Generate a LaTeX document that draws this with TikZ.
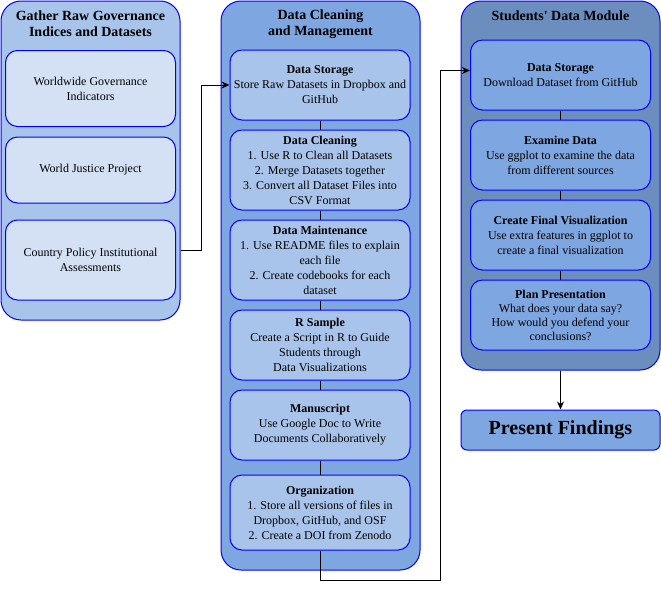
\documentclass[tikz,border=0pt]{standalone}
\usepackage{fontspec}
\setmainfont{Liberation Serif}
\usetikzlibrary{arrows.meta}

\definecolor{paleblue}{HTML}{D4E1F5}
\definecolor{lightblue}{HTML}{A9C4EB}
\definecolor{midblue}{HTML}{7EA6E0}
\definecolor{darkblue}{HTML}{6C8EBF}

\begin{document}
\begin{tikzpicture}[x=1pt, y=-1pt,
    panel/.style={draw=blue, line width=1pt, rounded corners=20pt, inner sep=0pt},
    stepbox/.style={draw=blue, line width=1pt, rounded corners=12pt, align=center,
                    inner sep=0pt, minimum width=180pt, font=\fontsize{12}{15}\selectfont},
    heading/.style={align=center, font=\fontsize{14}{16}\selectfont\bfseries},
    link/.style={line width=1pt},
    arrow/.style={link, -{Stealth[length=8pt,width=7pt]}}]
       \useasboundingbox (0,0) rectangle (661,589);
       % raw governance sources
       \node at (90.5,160.5) [panel, fill=lightblue, minimum width=179pt, minimum height=319pt] (gather) {};
       \node at (90.5,23.5) [heading] (gathertitle) {Gather Raw Governance\\Indices and Datasets};
       \node at (90.5,88.5) [stepbox, fill=paleblue, minimum width=170pt, minimum height=76pt] (wgi) {Worldwide Governance\\Indicators};
       \node at (90.5,170) [stepbox, fill=paleblue, minimum width=170pt, minimum height=66pt] (wjp) {World Justice Project};
       \node at (90.5,260) [stepbox, fill=paleblue, minimum width=170pt, minimum height=80pt] (cpia) {Country Policy Institutional\\Assessments};
       % cleaning and management
       \node at (320.5,285.5) [panel, fill=midblue, minimum width=199pt, minimum height=569pt] (manage) {};
       \node at (320.5,24) [heading] (managetitle) {Data Cleaning\\and Management};
       \node at (320,85) [stepbox, fill=lightblue, minimum height=70pt] (store) {\textbf{Data Storage}\\Store Raw Datasets in Dropbox and\\GitHub};
       \node at (320,170) [stepbox, fill=lightblue, minimum height=80pt] (clean) {\textbf{Data Cleaning}\\1. Use R to Clean all Datasets\\2. Merge Datasets together\\3. Convert all Dataset Files into\\CSV Format};
       \node at (320,260) [stepbox, fill=lightblue, minimum height=80pt] (maint) {\textbf{Data Maintenance}\\1. Use README files to explain\\each file\\2. Create codebooks for each\\dataset};
       \node at (320,345) [stepbox, fill=lightblue, minimum height=70pt] (rsample) {\textbf{R Sample}\\Create a Script in R to Guide\\Students through\\Data Visualizations};
       \node at (320,425) [stepbox, fill=lightblue, minimum height=70pt] (manu) {\textbf{Manuscript}\\Use Google Doc to Write\\Documents Collaboratively};
       \node at (320,512.5) [stepbox, fill=lightblue, minimum height=75pt] (org) {\textbf{Organization}\\1. Store all versions of files in\\Dropbox, GitHub, and OSF\\2. Create a DOI from Zenodo};
       % students' module
       \node at (560.5,185.5) [panel, fill=darkblue, minimum width=199pt, minimum height=369pt] (module) {};
       \node at (560.5,16) [heading] (moduletitle) {Students\textquotesingle\ Data Module};
       \node at (560.5,75) [stepbox, fill=midblue, minimum height=70pt] (dstore) {\textbf{Data Storage}\\Download Dataset from GitHub};
       \node at (560.5,155) [stepbox, fill=midblue, minimum height=70pt] (exam) {\textbf{Examine Data}\\Use ggplot to examine the data\\from different sources};
       \node at (560.5,235) [stepbox, fill=midblue, minimum height=70pt] (final) {\textbf{Create Final Visualization}\\Use extra features in ggplot to\\create a final visualization};
       \node at (560.5,315) [stepbox, fill=midblue, minimum height=70pt, font=\fontsize{12}{14}\selectfont] (plan) {\textbf{Plan Presentation}\\What does your data say?\\How would you defend your\\conclusions?};
       \node at (560.5,430) [stepbox, fill=midblue, minimum width=199pt, minimum height=40pt, rounded corners=6pt, font=\fontsize{20}{24}\selectfont\bfseries] (present) {Present Findings};
       % connectors
       \coordinate (turn) at (440.5,580);
       \draw[arrow] (gather.east |- 0,250) -- ++(20.5,0) |- (store.west);
       \draw[arrow] (org.south) |- (turn) |- (dstore.west |- 0,70.5);
       \draw[arrow] (module.south) -- (present.north);
       \foreach \a/\b in {store/clean, clean/maint, maint/rsample, rsample/manu, manu/org,
                          dstore/exam, exam/final, final/plan}
          \draw[link] (\a.south) -- (\b.north);
\end{tikzpicture}
\end{document}
